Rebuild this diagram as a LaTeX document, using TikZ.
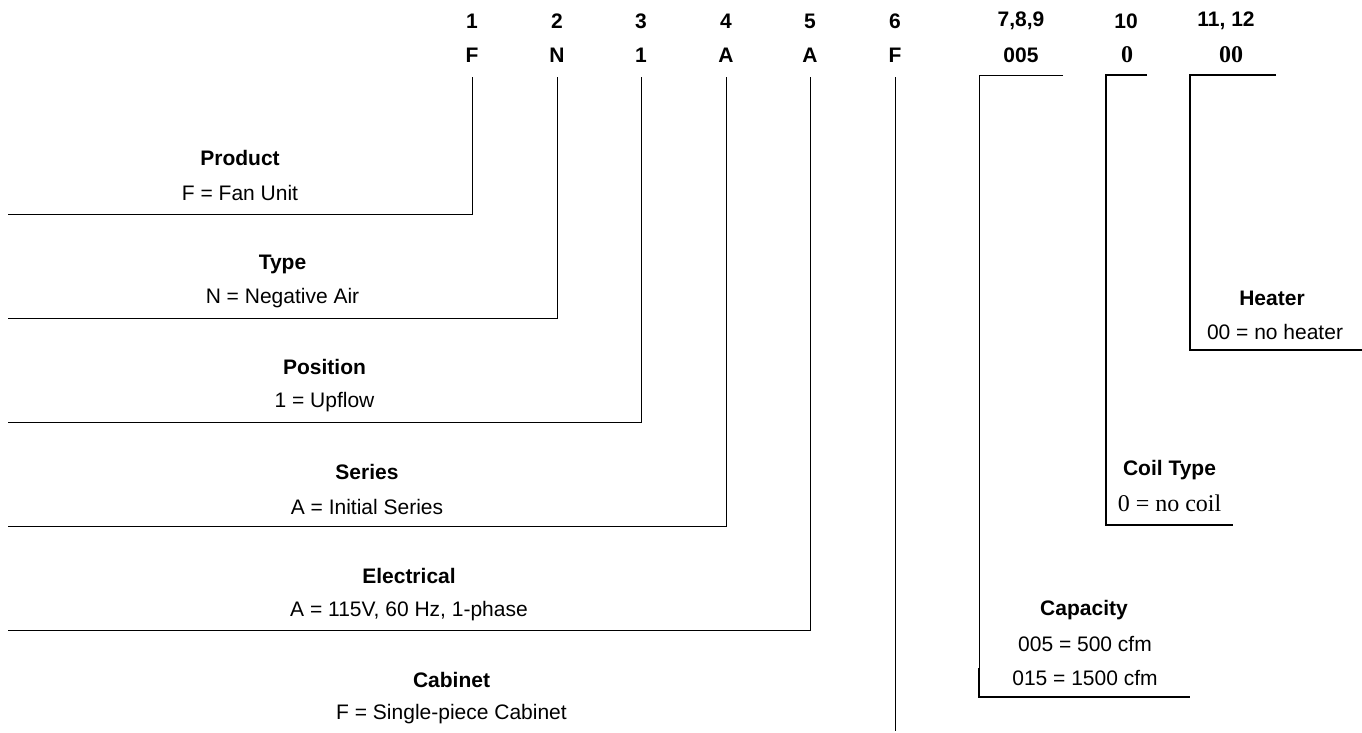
\documentclass[tikz,border=0pt]{standalone}
\usepackage{fontspec}
\setmainfont{Liberation Sans}
\newfontfamily\tnr{Liberation Serif}
\begin{document}
\begin{tikzpicture}[x=1pt,y=-1pt,
  lbl/.style={inner sep=0pt,anchor=center,font=\fontsize{21}{24}\selectfont},
  ttl/.style={inner sep=0pt,anchor=center,font=\fontsize{21}{24}\selectfont\bfseries},
  hdr/.style={inner sep=0pt,anchor=center,font=\fontsize{21}{24}\selectfont\bfseries},
  hdrs/.style={inner sep=0pt,anchor=center,font=\fontsize{24}{28}\selectfont\tnr\bfseries},
  thin/.style={line width=1pt},
  thick/.style={line width=2pt}]
\useasboundingbox (0,0) rectangle (1362,732);
% header
\foreach \n/\x/\a/\b in {h1/472/1/F,h2/557/2/N,h3/641/3/1,h4/726/4/A,h5/810/5/A,h6/895/6/F,h7/1021/{7,8,9}/005}{
  \node[hdr] (\n a) at (\x,21) {\a};
  \node[hdr] (\n b) at (\x,55) {\b};
}
\node[hdr] (h10a) at (1126,21) {10};
\node[hdrs] (h10b) at (1127,55) {0};
\node[hdr] (h11a) at (1226,21) {11, 12};
\node[hdrs] (h11b) at (1231,55) {00};
% left labels
\node[ttl] (t1) at (240,158) {Product};
\node[lbl] (d1) at (240,193) {F = Fan Unit};
\node[ttl] (t2) at (282.5,264) {Type};
\node[lbl] (d2) at (282.5,298) {N = Negative Air};
\node[ttl] (t3) at (324.5,367) {Position};
\node[lbl] (d3) at (324.5,402) {1 = Upflow};
\node[ttl] (t4) at (367,472) {Series};
\node[lbl] (d4) at (367,507) {A = Initial Series};
\node[ttl] (t5) at (409,576) {Electrical};
\node[lbl] (d5) at (409,611) {A = 115V, 60 Hz, 1-phase};
\node[ttl] (t6) at (451.5,680) {Cabinet};
\node[lbl] (d6) at (451.5,714) {F = Single-piece Cabinet};
% right labels
\node[ttl] (t7) at (1084,610) {Capacity};
\node[lbl] (d7a) at (1085,644) {005 = 500 cfm};
\node[lbl] (d7b) at (1085,678) {015 = 1500 cfm};
\node[ttl] (t8) at (1169.5,470) {Coil Type};
\node[lbl,font=\fontsize{24}{28}\selectfont\tnr] (d8) at (1169.5,503) {0 = no coil};
\node[ttl] (t9) at (1272,298) {Heater};
\node[lbl] (d9) at (1275,332) {00 = no heater};
% connectors from the code letters
\foreach \i/\x/\y in {1/472/214,2/557/318,3/641/422,4/726/526,5/810/630}{
  \coordinate (s\i) at (\x,77);
  \coordinate (e\i) at (8,\y);
  \draw[thin] (s\i) |- (e\i);
}
\coordinate (s6) at (895,77);
\coordinate (e6) at (895,731);
\draw[thin] (s6) -- (e6);
% 7,8,9
\coordinate (a7) at (1063,75);
\coordinate (b7) at (979.5,75);
\coordinate (m7) at (979.5,668);
\coordinate (c7) at (979,697);
\coordinate (f7) at (1190,697);
\draw[thin] (a7) -- (b7) -- (m7);
\draw[thick] (m7 -| c7) -- (c7) -- (f7);
% 10
\coordinate (a8) at (1147,75);
\coordinate (b8) at (1106,75);
\coordinate (f8) at (1233,525);
\draw[thick] (a8) -- (b8) |- (f8);
% 11,12
\coordinate (a9) at (1276,75);
\coordinate (b9) at (1190,75);
\coordinate (f9) at (1362,350);
\draw[thick] (a9) -- (b9) |- (f9);
\end{tikzpicture}
\end{document}
